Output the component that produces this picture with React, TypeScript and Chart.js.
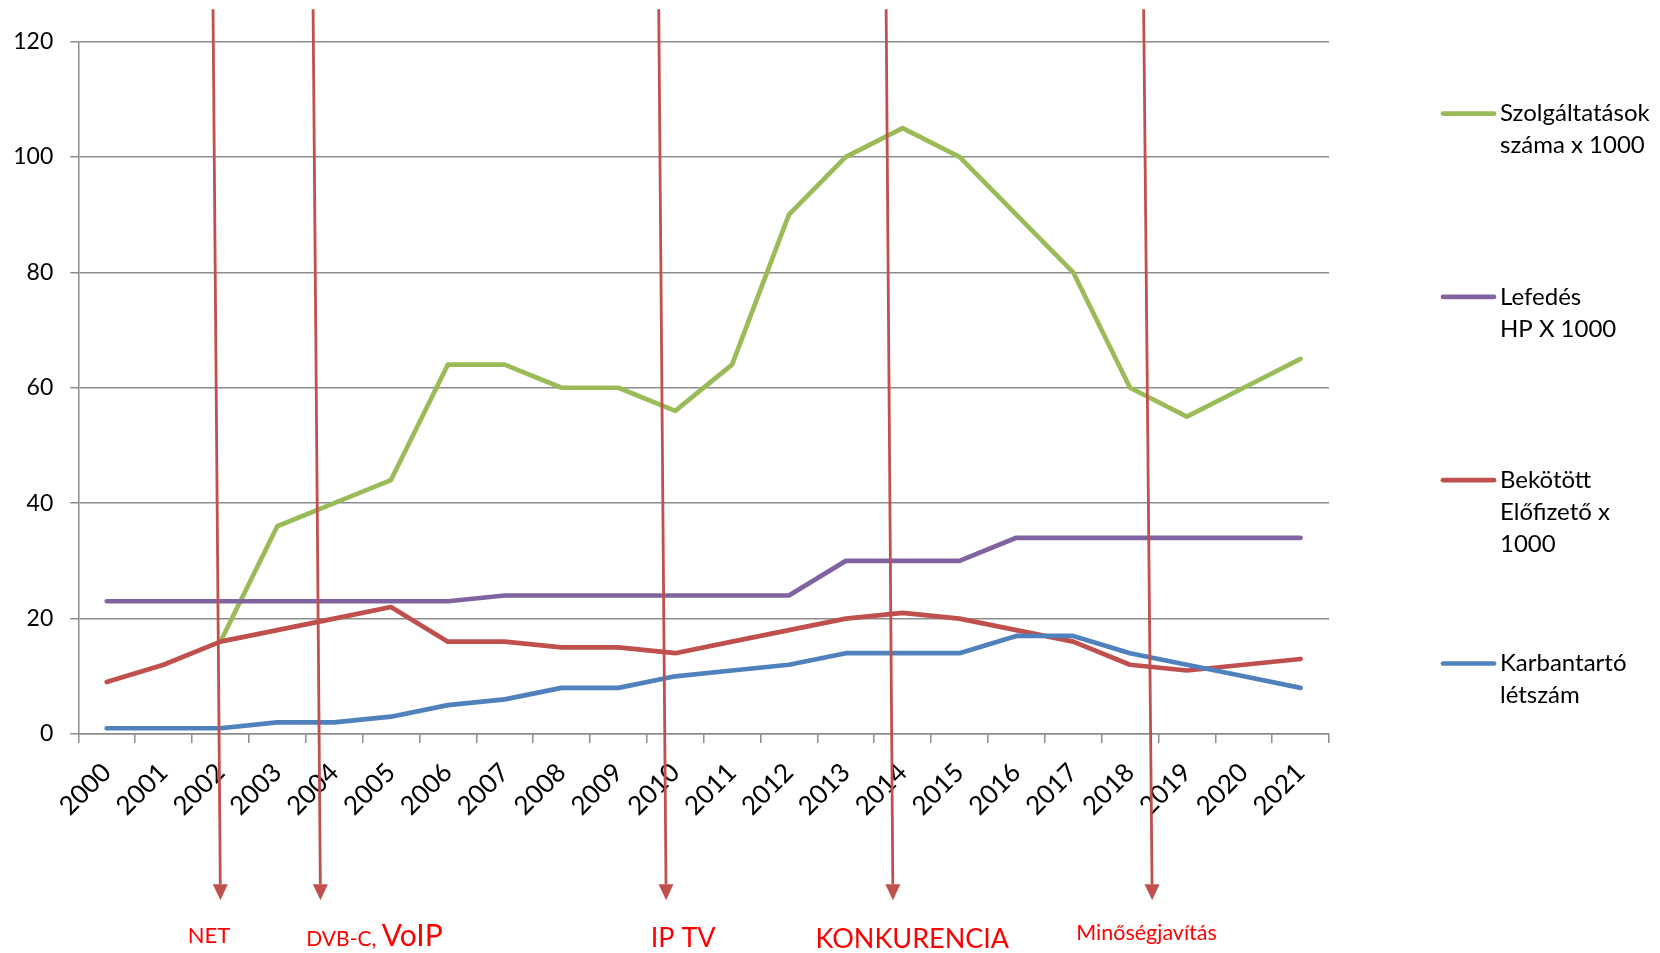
import { useEffect, useRef } from 'react';
import { Chart, registerables } from 'chart.js';

Chart.register(...registerables);

// ---- Data ----
const years = ['2000', '2001', '2002', '2003', '2004', '2005', '2006', '2007', '2008', '2009', '2010',
  '2011', '2012', '2013', '2014', '2015', '2016', '2017', '2018', '2019', '2020', '2021'];

const szolgaltatasok = [null, null, 16, 36, 40, 44, 64, 64, 60, 60, 56, 64, 90, 100, 105, 100, 90, 80, 60, 55, 60, 65];
const lefedes = [23, 23, 23, 23, 23, 23, 23, 24, 24, 24, 24, 24, 24, 30, 30, 30, 34, 34, 34, 34, 34, 34];
const bekotott = [9, 12, 16, 18, 20, 22, 16, 16, 15, 15, 14, 16, 18, 20, 21, 20, 18, 16, 12, 11, 12, 13];
const karbantarto = [1, 1, 1, 2, 2, 3, 5, 6, 8, 8, 10, 11, 12, 14, 14, 14, 17, 17, 14, 12, 10, 8];

const yTickValues = [0, 20, 40, 60, 80, 100, 120];

const seriesLabels = [
  ['Szolgáltatások', 'száma x 1000'],
  ['Lefedés', 'HP X 1000'],
  ['Bekötött', 'Előfizető x', '1000'],
  ['Karbantartó', 'létszám'],
];
const seriesColors = ['#9BBB59', '#8064A2', '#C0504D', '#4F81BD'];

// Event annotations (x in category-index units, y in value units)
const eventTopX = [1.87, 3.63, 9.71, 13.71, 18.24];
const eventBottomX = [2.0, 3.76, 9.84, 13.83, 18.39];
const eventLabels = [
  [{ t: 'NET', size: 22 }],
  [{ t: 'DVB-C, ', size: 21 }, { t: 'VoIP', size: 30 }],
  [{ t: 'IP TV', size: 27 }],
  [{ t: 'KONKURENCIA', size: 27 }],
  [{ t: 'Minőségjavítás', size: 21.5 }],
];
const eventLabelX = [1.80, 4.71, 10.14, 14.17, 18.29];
const eventLabelY = [-36.2, -36.7, -36.9, -37.1, -35.7];
const arrowTopY = 125.6;
const arrowBottomY = -28.8;

const FONT = 'Lato, "Open Sans", sans-serif';

const annotationPlugin = {
  id: 'events',
  afterDraw(chart: any) {
    const ctx = chart.ctx;
    const xs = chart.scales.x;
    const ys = chart.scales.y;
    ctx.save();
    for (let i = 0; i < eventTopX.length; i++) {
      const x1 = xs.getPixelForValue(eventTopX[i]);
      const y1 = ys.getPixelForValue(arrowTopY);
      const x2 = xs.getPixelForValue(eventBottomX[i]);
      const y2 = ys.getPixelForValue(arrowBottomY);
      const ang = Math.atan2(y2 - y1, x2 - x1);
      const headLen = 16;
      const headHalf = 7.5;
      const bx = x2 - headLen * Math.cos(ang);
      const by = y2 - headLen * Math.sin(ang);
      ctx.strokeStyle = '#C0504D';
      ctx.lineWidth = 2.8;
      ctx.beginPath();
      ctx.moveTo(x1, y1);
      ctx.lineTo(bx, by);
      ctx.stroke();
      ctx.fillStyle = '#C0504D';
      ctx.beginPath();
      ctx.moveTo(x2, y2);
      ctx.lineTo(bx + headHalf * Math.sin(ang), by - headHalf * Math.cos(ang));
      ctx.lineTo(bx - headHalf * Math.sin(ang), by + headHalf * Math.cos(ang));
      ctx.closePath();
      ctx.fill();
    }
    ctx.fillStyle = '#FF0000';
    ctx.textBaseline = 'alphabetic';
    ctx.textAlign = 'left';
    for (let i = 0; i < eventLabels.length; i++) {
      const parts = eventLabels[i];
      let total = 0;
      const widths: number[] = [];
      for (const p of parts) {
        ctx.font = `${p.size}px ${FONT}`;
        const w = ctx.measureText(p.t).width;
        widths.push(w);
        total += w;
      }
      let x = xs.getPixelForValue(eventLabelX[i]) - total / 2;
      const y = ys.getPixelForValue(eventLabelY[i]);
      parts.forEach((p, k) => {
        ctx.font = `${p.size}px ${FONT}`;
        ctx.fillText(p.t, x, y);
        x += widths[k];
      });
    }
    ctx.restore();
  },
};

const legendPlugin = {
  id: 'sideLegend',
  afterDraw(chart: any) {
    const ctx = chart.ctx;
    const startY = 113.6;
    const gap = 183.3;
    const lineH = 32;
    ctx.save();
    ctx.font = `24px ${FONT}`;
    ctx.textBaseline = 'middle';
    ctx.textAlign = 'left';
    seriesLabels.forEach((lines, i) => {
      const y = startY + i * gap;
      ctx.strokeStyle = seriesColors[i];
      ctx.lineWidth = 4.7;
      ctx.lineCap = 'round';
      ctx.beginPath();
      ctx.moveTo(1443, y);
      ctx.lineTo(1494, y);
      ctx.stroke();
      ctx.fillStyle = '#000';
      lines.forEach((t, k) => ctx.fillText(t, 1500, y + k * lineH));
    });
    ctx.restore();
  },
};

export default function App() {
  const ref = useRef<HTMLCanvasElement>(null);
  useEffect(() => {
    document.body.style.margin = '0';
    const mk = (idx: number, data: (number | null)[]) => ({
      label: seriesLabels[idx].join(' '),
      data,
      borderColor: seriesColors[idx],
      backgroundColor: seriesColors[idx],
      borderWidth: 4.7,
      pointRadius: 0,
      pointHoverRadius: 0,
      tension: 0,
      borderCapStyle: 'round' as const,
      borderJoinStyle: 'round' as const,
      spanGaps: false,
    });
    const chart = new Chart(ref.current!, {
      type: 'line',
      data: {
        labels: years,
        datasets: [
          mk(3, karbantarto),
          mk(2, bekotott),
          mk(1, lefedes),
          mk(0, szolgaltatasok),
        ],
      },
      options: {
        responsive: false,
        animation: false,
        devicePixelRatio: 1,
        layout: { padding: { top: 41.5, right: 331, left: 0, bottom: 0 } },
        plugins: {
          legend: { display: false },
          tooltip: { enabled: false },
        },
        scales: {
          x: {
            type: 'category',
            offset: true,
            afterFit: (s: any) => { s.height = 219; },
            grid: {
              offset: true,
              drawOnChartArea: false,
              drawTicks: true,
              tickLength: 9,
              color: '#8c8c8c',
              lineWidth: 1.5,
            },
            border: { display: true, color: '#8c8c8c', width: 1.5 },
            ticks: {
              autoSkip: false,
              maxRotation: 45,
              minRotation: 45,
              padding: 14,
              color: '#000',
              font: { family: FONT, size: 26 },
            },
          },
          y: {
            min: 0,
            max: 120,
            afterFit: (s: any) => { s.width = 78.3; },
            afterBuildTicks: (s: any) => { s.ticks = yTickValues.map((v) => ({ value: v })); },
            grid: {
              drawTicks: true,
              tickLength: 8,
              color: '#8c8c8c',
              lineWidth: 1.5,
            },
            border: { display: true, color: '#8c8c8c', width: 1.5 },
            ticks: {
              padding: 17,
              color: '#000',
              font: { family: FONT, size: 23 },
            },
          },
        },
      },
      plugins: [annotationPlugin, legendPlugin],
    });
    return () => chart.destroy();
  }, []);
  return (
    <div style={{ width: 1660, height: 953 }}>
      <canvas ref={ref} width={1660} height={953} style={{ display: 'block', width: 1660, height: 953 }} />
    </div>
  );
}
